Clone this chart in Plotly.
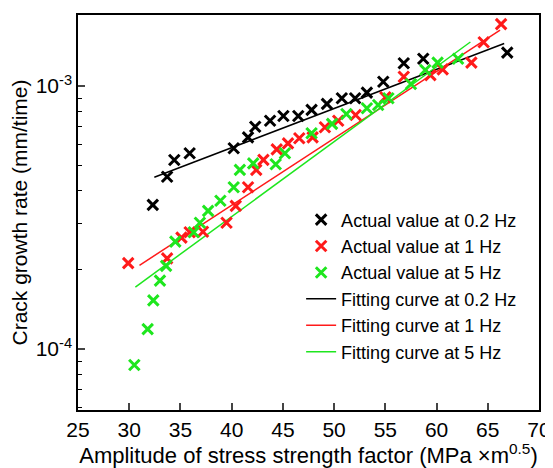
import plotly.graph_objects as go

# ---- data ----
x_02 = [32.3, 33.7, 34.4, 35.9, 40.2, 41.6, 42.3, 43.75, 45.05, 46.5, 47.8, 49.3,
        50.75, 52.05, 53.2, 54.8, 56.8, 58.7, 66.9]
y_02 = [3.53e-4, 4.52e-4, 5.23e-4, 5.55e-4, 5.80e-4, 6.38e-4, 7.0e-4, 7.38e-4,
        7.69e-4, 7.69e-4, 8.11e-4, 8.55e-4, 8.98e-4, 8.98e-4, 9.44e-4, 1.038e-3,
        1.22e-3, 1.27e-3, 1.34e-3]

x_1 = [29.9, 33.7, 35.1, 35.9, 37.2, 39.5, 40.4, 41.6, 42.4, 43.1, 44.4, 45.5,
       46.6, 47.9, 49.1, 50.4, 52.1, 55.0, 56.8, 59.4, 60.6, 63.4, 64.6, 66.3]
y_1 = [2.12e-4, 2.21e-4, 2.65e-4, 2.78e-4, 2.79e-4, 3.02e-4, 3.50e-4, 4.12e-4,
       4.80e-4, 5.24e-4, 5.74e-4, 6.05e-4, 6.33e-4, 6.38e-4, 6.97e-4, 7.38e-4,
       7.76e-4, 9.06e-4, 1.084e-3, 1.10e-3, 1.157e-3, 1.227e-3, 1.466e-3, 1.72e-3]

x_5 = [30.5, 31.8, 32.35, 33.0, 33.6, 34.5, 36.3, 36.9, 37.7, 38.9, 40.2, 40.8,
       42.1, 44.3, 45.2, 47.8, 49.8, 51.2, 53.2, 54.3, 55.3, 57.5, 58.9, 60.1, 62.1]
y_5 = [8.69e-5, 1.19e-4, 1.53e-4, 1.82e-4, 2.07e-4, 2.56e-4, 2.78e-4, 3.02e-4,
       3.35e-4, 3.66e-4, 4.12e-4, 4.80e-4, 5.08e-4, 5.04e-4, 5.55e-4, 6.61e-4,
       7.18e-4, 7.83e-4, 8.23e-4, 8.47e-4, 8.98e-4, 1.018e-3, 1.15e-3, 1.227e-3, 1.27e-3]

fit_x_02 = [32.45, 66.6]
fit_y_02 = [4.50e-4, 1.45e-3]
fit_x_1 = [31.0, 66.2]
fit_y_1 = [2.08e-4, 1.63e-3]
fit_x_5 = [30.6, 63.3]
fit_y_5 = [1.72e-4, 1.47e-3]

x_ticks = [25, 30, 35, 40, 45, 50, 55, 60, 65, 70]
y_major = [1e-4, 1e-3]
y_major_text = ["10<sup>-4</sup>", "10<sup>-3</sup>"]
y_minor = [6e-5, 7e-5, 8e-5, 9e-5, 2e-4, 3e-4, 4e-4, 5e-4, 6e-4, 7e-4, 8e-4, 9e-4]

BLACK = "#000000"
RED = "#ff1a1a"
GREEN = "#1ee61e"
FONT = "Liberation Sans, Arial, sans-serif"

fig = go.Figure()

def marker_trace(x, y, color, name, rank):
    return go.Scatter(
        x=x, y=y, mode="markers", name=name, legendrank=rank,
        marker=dict(symbol="x-thin", size=10.5, color=color,
                    line=dict(color=color, width=3)),
    )

def line_trace(x, y, color, name, rank):
    return go.Scatter(
        x=x, y=y, mode="lines", name=name, legendrank=rank,
        line=dict(color=color, width=1.5),
    )

fig.add_trace(line_trace(fit_x_02, fit_y_02, BLACK, "Fitting curve at 0.2 Hz", 4))
fig.add_trace(line_trace(fit_x_1, fit_y_1, RED, "Fitting curve at 1 Hz", 5))
fig.add_trace(line_trace(fit_x_5, fit_y_5, GREEN, "Fitting curve at 5 Hz", 6))
fig.add_trace(marker_trace(x_02, y_02, BLACK, "Actual value at 0.2 Hz", 1))
fig.add_trace(marker_trace(x_1, y_1, RED, "Actual value at 1 Hz", 2))
fig.add_trace(marker_trace(x_5, y_5, GREEN, "Actual value at 5 Hz", 3))

# page body adds an 8px margin, so the figure is sized to fill the rest
fig.update_layout(
    width=545, height=460,
    margin=dict(l=70, r=14, t=7, b=58, autoexpand=False),
    paper_bgcolor="white", plot_bgcolor="white",
    font=dict(family=FONT, color="black", size=21),
    showlegend=True,
    legend=dict(
        x=0.484, y=0.528, xanchor="left", yanchor="top",
        bgcolor="rgba(0,0,0,0)", borderwidth=0,
        font=dict(size=18, family=FONT, color="black"),
        tracegroupgap=0, itemwidth=30,
    ),
    xaxis=dict(
        range=[25, 70], tickvals=x_ticks, ticks="inside", ticklen=7,
        tickwidth=1.5, showline=True, linecolor="black", linewidth=1.5,
        mirror=True, showgrid=False, zeroline=False, automargin=False,
        tickfont=dict(size=21),
        title=dict(text="Amplitude of stress strength factor (MPa ×m<sup>0.5</sup>)",
                   font=dict(size=22), standoff=7),
    ),
    yaxis=dict(
        type="log", range=[-4.232, -2.730],
        tickvals=y_major, ticktext=y_major_text,
        ticks="inside", ticklen=7, tickwidth=1.5,
        minor=dict(tickvals=y_minor, ticks="inside", ticklen=4, tickwidth=1.2,
                   tickcolor="black", showgrid=False),
        showline=True, linecolor="black", linewidth=1.5,
        mirror=True, showgrid=False, zeroline=False, automargin=False,
        tickfont=dict(size=21),
        title=dict(text="Crack growth rate (mm/time)", font=dict(size=21), standoff=3),
    ),
)

fig.write_html("out.html")
